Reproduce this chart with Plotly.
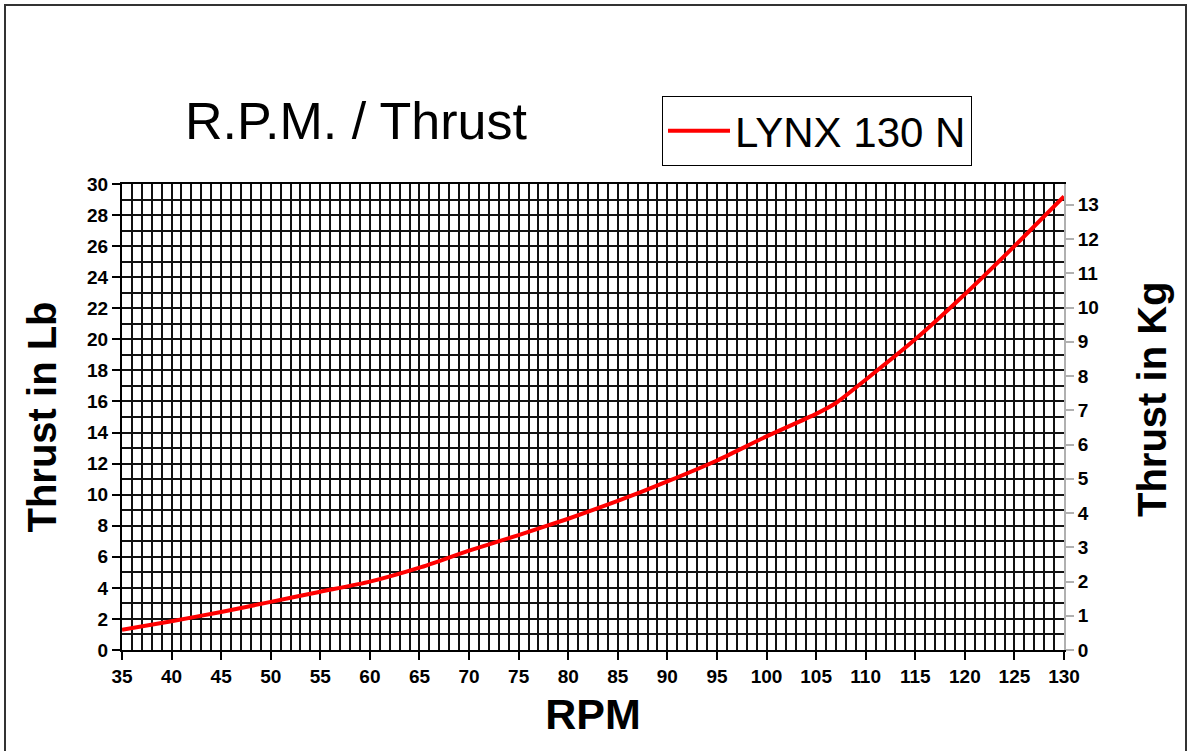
import plotly.graph_objects as go

rpm = [35, 40, 45, 50, 55, 60, 65, 70, 75, 80, 85, 90, 95, 100, 105, 107, 110, 115, 120, 125, 130]
thrust_lb = [1.3, 1.85, 2.45, 3.1, 3.75, 4.4, 5.3, 6.4, 7.4, 8.45, 9.6, 10.85, 12.2, 13.75, 15.2, 15.9, 17.4, 20.0, 22.9, 26.0, 29.2]
LB_PER_KG = 2.20462
thrust_kg = [v / LB_PER_KG for v in thrust_lb]

series_name = "LYNX 130 N"
title_text = "R.P.M. / Thrust"

W, H = 1188, 751
L, R, T, B = 122, 124, 184, 101
PW, PH = W - L - R, H - T - B

def px_x(p):
    return (p - L) / PW

def px_y(p):
    return (H - B - p) / PH

FONT = "Liberation Sans, Arial, sans-serif"

fig = go.Figure()
fig.add_trace(go.Scatter(
    x=rpm, y=thrust_lb, mode="lines", name=series_name,
    line=dict(color="#ff0000", width=4, shape="spline", smoothing=0.6),
))
fig.add_trace(go.Scatter(
    x=rpm, y=thrust_kg, mode="lines", yaxis="y2", showlegend=False,
    line=dict(color="rgba(0,0,0,0)", width=0), hoverinfo="skip",
))

grid_col = "#111111"
fig.update_layout(
    width=W, height=H,
    margin=dict(l=L, r=R, t=T, b=B, pad=0),
    paper_bgcolor="white", plot_bgcolor="white",
    font=dict(family=FONT, color="black"),
    showlegend=True,
    legend=dict(
        x=px_x(662), y=px_y(96), xanchor="left", yanchor="top",
        bordercolor="black", borderwidth=1, bgcolor="white",
        font=dict(family=FONT, size=42, color="black"),
        itemwidth=62, tracegroupgap=0,
    ),
    xaxis=dict(
        range=[35, 130], tick0=35, dtick=5,
        showgrid=True, gridcolor=grid_col, gridwidth=2,
        minor=dict(dtick=1, showgrid=True, gridcolor=grid_col, gridwidth=2, ticks=""),
        showline=True, linecolor="black", linewidth=2, mirror=True,
        ticks="outside", ticklen=8, tickcolor="black", tickwidth=2,
        tickfont=dict(family=FONT, size=19, color="black", weight="bold"),
        title=dict(text="<b>RPM</b>", font=dict(family=FONT, size=43), standoff=13),
        zeroline=False,
    ),
    yaxis=dict(
        range=[0, 30], tick0=0, dtick=2,
        showgrid=True, gridcolor=grid_col, gridwidth=2,
        minor=dict(dtick=1, showgrid=True, gridcolor=grid_col, gridwidth=2, ticks=""),
        showline=True, linecolor="black", linewidth=2,
        ticks="outside", ticklen=8, tickcolor="black", tickwidth=2,
        tickfont=dict(family=FONT, size=19, color="black", weight="bold"),
        title=dict(text="<b>Thrust in Lb</b>", font=dict(family=FONT, size=40), standoff=18),
        zeroline=False,
    ),
    yaxis2=dict(
        overlaying="y", side="right",
        range=[0, 30 / LB_PER_KG], tick0=0, dtick=1,
        showgrid=False, zeroline=False,
        showline=True, linecolor="#b0b0b0", linewidth=2,
        ticks="outside", ticklen=8, tickcolor="#b0b0b0", tickwidth=2,
        tickfont=dict(family=FONT, size=19, color="black", weight="bold"),
    ),
    annotations=[
        dict(
            text=title_text, xref="paper", yref="paper",
            x=px_x(356), y=px_y(121), xanchor="center", yanchor="middle",
            showarrow=False, font=dict(family=FONT, size=52, color="black"),
        ),
        dict(
            text="<b>Thrust in Kg</b>", xref="paper", yref="paper",
            x=px_x(1152), y=px_y(399), xanchor="center", yanchor="middle",
            textangle=-90, showarrow=False,
            font=dict(family=FONT, size=40, color="black"),
        ),
    ],
    shapes=[
        dict(type="rect", xref="paper", yref="paper",
             x0=px_x(5), x1=px_x(1186), y0=px_y(755), y1=px_y(5),
             line=dict(color="#333333", width=2), fillcolor="rgba(0,0,0,0)", layer="below"),
    ],
)

fig.write_html("out.html", config={"displayModeBar": False},
               post_script="document.body.style.margin='0';")
